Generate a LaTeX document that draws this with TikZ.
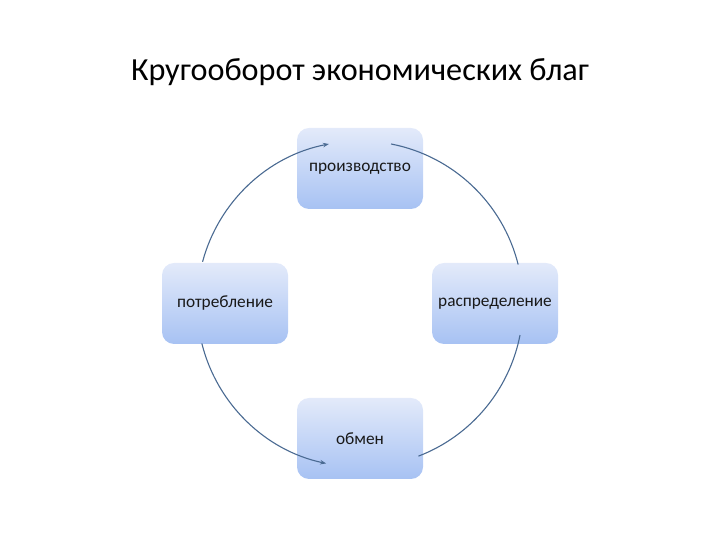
\documentclass[tikz,border=0pt]{standalone}
\usepackage{fontspec}
\setmainfont{Carlito}
\usetikzlibrary{arrows.meta}
\definecolor{boxtop}{HTML}{E3EAFA}
\definecolor{boxbot}{HTML}{A7C2F3}
\definecolor{arccol}{HTML}{4A6A92}
\tikzset{
  stage/.style={rounded corners=12pt, minimum width=126pt, minimum height=81pt,
    top color=boxtop, bottom color=boxbot, draw=none, inner sep=0pt,
    font=\fontsize{17.3}{20}\selectfont, text=black!90},
  flow/.style={draw=arccol, line width=1.1pt},
  tip/.style={-{Stealth[length=6pt,width=4.5pt]}}
}
\begin{document}
\begin{tikzpicture}[x=1pt,y=1pt]
\useasboundingbox (0,0) rectangle (720,540);
\node (title) at (360,468) {\fontsize{32.2}{38}\selectfont Кругооборот экономических благ};
\coordinate (O) at (360,236);
\node[stage] (prod) at (360,371.5) {производство};
\node[stage] (potr) at (225,236.5) {потребление};
\node[stage] (raspr) at (495,236.5) {распределение};
\node[stage] (obmen) at (360,101.5) {обмен};
\draw[flow,tip] (O) ++(165:163) arc[start angle=165, end angle=101, radius=163];
\draw[flow] (O) ++(79:163) arc[start angle=79, end angle=14, radius=163];
\draw[flow] (O) ++(-11:163) arc[start angle=-11, end angle=-69, radius=163];
\draw[flow,tip] (O) ++(194:163) arc[start angle=194, end angle=258, radius=163];
\end{tikzpicture}
\end{document}
